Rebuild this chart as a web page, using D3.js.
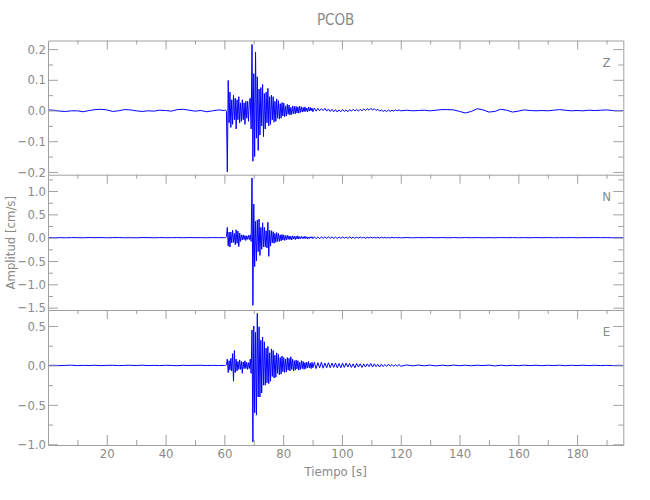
<!DOCTYPE html>
<html>
<head>
<meta charset="utf-8">
<script src="https://cdn.jsdelivr.net/npm/d3@7"></script>
<style>
  html, body { margin: 0; padding: 0; background: #ffffff; }
  svg { display: block; }
  text { font-family: "Liberation Sans Narrow", "DejaVu Sans Condensed", "Roboto", sans-serif; fill: #8a8a8a; }
</style>
</head>
<body>
<div id="chart"></div>
<script>
// ---------------- DATA ----------------
const title = "PCOB";
const components = ["Z", "N", "E"];
const xLabel = "Tiempo [s]";
const yLabel = "Amplitud [cm/s]";

// sampling grids of the hand-read trace segments (start time, step in s)
const gridPre  = [0.0, 2.0];
const gridEvt  = [60.4, 0.3];
const gridCoda = [90.6, 0.6];
const gridTail = [122.0, 2.0];

// Z component
const zPre = [0.002,0.001,-0.002,-0.003,-0.001,-0.001,-0.004,0.000,0.003,0.004,0.002,-0.003,-0.001,0.003,0.002,-0.001,-0.003,-0.001,-0.002,0.001,0.000,-0.002,0.003,0.004,0.001,-0.002,0.000,-0.004,-0.001,0.002,0.000];
const zEvt = [0.002,-0.003,-0.200,0.098,-0.040,0.060,-0.055,0.035,-0.045,0.050,
  -0.030,0.040,-0.060,0.035,-0.030,0.045,-0.040,0.025,-0.035,0.035,
  -0.030,0.025,-0.045,0.030,-0.025,0.030,-0.035,0.030,0.040,-0.060,
  0.215,-0.165,0.120,-0.150,0.190,-0.090,0.110,-0.130,0.070,-0.080,
  0.075,-0.050,0.085,-0.085,0.055,-0.060,0.060,-0.040,0.072,-0.050,
  0.045,-0.045,0.050,-0.030,0.045,-0.038,0.030,-0.035,0.038,-0.025,
  0.032,-0.028,0.022,-0.025,0.026,-0.018,0.024,-0.020,0.015,-0.018,
  0.020,-0.012,0.018,-0.015,0.010,-0.013,0.015,-0.010,0.014,-0.011,
  0.013,-0.008,0.012,-0.009,0.014,-0.006,0.012,-0.005,0.010,-0.004,
  0.012,-0.003,0.008,-0.004,0.011,-0.002,0.010,-0.001,0.008,-0.004];
const zCoda = [0.008,-0.002,0.007,-0.001,0.006,0.000,0.007,-0.002,0.005,-0.003,
  0.004,-0.004,0.003,-0.005,0.002,-0.004,0.003,-0.003,0.002,-0.004,
  0.003,-0.002,0.004,-0.001,0.003,-0.002,0.004,-0.001,0.005,0.000,
  0.006,0.001,0.007,0.002,0.006,0.000,0.004,-0.002,0.002,-0.003,
  0.001,-0.004,0.002,-0.003,0.001,-0.002,0.002,-0.001,0.002,-0.001];
const zTail = [0.001,-0.001,0.000,0.001,-0.001,0.001,0.003,0.003,0.002,-0.003,
  -0.008,-0.003,0.006,0.002,-0.005,-0.003,0.004,0.001,-0.005,-0.002,
  0.002,0.000,-0.001,0.000,-0.001,0.001,0.003,0.001,-0.001,0.000,
  -0.001,0.001,0.000,0.001,0.002,0.000,-0.001,0.000];

// N component
const nPre = [0.002,-0.002,0.001,-0.003,0.002,0.000,-0.002,0.003,-0.001,0.002,-0.002,0.001,0.003,-0.002,0.000,-0.003,0.002,0.001,-0.002,0.002,-0.001,0.000,0.002,-0.002,0.003,-0.001,0.001,-0.002,0.002,0.000,-0.001];
const nEvt = [0.000,0.020,0.220,-0.180,0.120,-0.200,0.120,-0.110,0.160,-0.100,
  0.090,-0.150,0.170,-0.120,0.140,-0.190,0.100,-0.080,0.060,-0.050,
  0.060,-0.040,0.045,-0.060,0.040,-0.035,0.050,-0.040,0.060,-0.080,
  1.280,-1.450,0.720,-0.620,0.350,-0.500,0.380,-0.300,0.400,-0.380,
  0.220,-0.250,0.320,-0.200,0.220,-0.200,0.150,-0.220,0.330,-0.400,
  0.160,-0.180,0.150,-0.110,0.130,-0.120,0.090,-0.100,0.110,-0.080,
  0.090,-0.080,0.060,-0.070,0.070,-0.050,0.060,-0.060,0.045,-0.050,
  0.050,-0.035,0.040,-0.040,0.030,-0.050,0.040,-0.025,0.030,-0.040,
  0.030,-0.025,0.040,-0.030,0.020,-0.020,0.030,-0.020,0.020,-0.020,
  0.030,-0.015,0.020,-0.030,0.015,-0.020,0.020,-0.010,0.020,-0.020];
const nCoda = [0.020,-0.020,0.015,-0.020,0.020,-0.015,0.018,-0.015,0.020,-0.012,
  0.015,-0.015,0.012,-0.018,0.015,-0.012,0.015,-0.010,0.012,-0.015,
  0.018,-0.010,0.012,-0.012,0.010,-0.010,0.015,-0.008,0.010,-0.012,
  0.008,-0.008,0.010,-0.006,0.008,-0.008,0.006,-0.008,0.010,-0.005,
  0.006,-0.006,0.005,-0.006,0.008,-0.004,0.005,-0.005,0.004,-0.004];
const nTail = [0.003,-0.003,0.002,-0.002,0.003,-0.002,0.002,-0.003,0.002,-0.002,
  0.003,-0.002,0.002,-0.002,0.001,-0.002,0.002,-0.001,0.002,-0.002,
  0.001,-0.002,0.002,-0.001,0.002,-0.002,0.001,-0.001,0.002,-0.002,
  0.001,-0.001,0.002,-0.001,0.001,-0.002,0.001,0.000];

// E component
const ePre = [-0.001,0.002,-0.002,0.001,0.003,-0.002,0.001,-0.001,0.002,-0.003,0.001,0.002,-0.002,0.000,0.002,-0.001,0.003,-0.002,0.001,-0.002,0.002,0.000,-0.003,0.002,-0.001,0.001,0.002,-0.002,0.001,-0.001,0.000];
const eEvt = [0.000,0.010,0.080,-0.090,0.060,-0.060,0.090,-0.070,0.150,-0.200,
  0.190,-0.090,0.080,-0.070,0.050,-0.050,0.070,-0.050,0.050,-0.100,
  0.045,-0.040,0.060,-0.040,0.040,-0.050,0.035,-0.040,0.080,-0.100,
  0.450,-0.970,0.500,-0.600,0.420,-0.630,0.660,-0.400,0.490,-0.400,
  0.320,-0.350,0.360,-0.250,0.300,-0.250,0.220,-0.220,0.240,-0.230,
  0.160,-0.200,0.210,-0.140,0.190,-0.160,0.130,-0.150,0.160,-0.100,
  0.140,-0.120,0.100,-0.110,0.120,-0.080,0.100,-0.090,0.080,-0.080,
  0.100,-0.060,0.090,-0.070,0.110,-0.050,0.080,-0.070,0.060,-0.060,
  0.070,-0.045,0.060,-0.060,0.040,-0.050,0.060,-0.040,0.050,-0.050,
  0.035,-0.040,0.040,-0.030,0.050,-0.030,0.030,-0.040,0.040,-0.030];
const eCoda = [0.040,-0.040,0.035,-0.030,0.040,-0.035,0.030,-0.030,0.035,-0.030,
  0.030,-0.025,0.030,-0.030,0.025,-0.030,0.030,-0.025,0.030,-0.020,
  0.025,-0.025,0.020,-0.030,0.025,-0.020,0.020,-0.025,0.020,-0.020,
  0.020,-0.015,0.025,-0.020,0.020,-0.015,0.015,-0.020,0.015,-0.015,
  0.012,-0.012,0.015,-0.010,0.012,-0.012,0.010,-0.010,0.012,-0.010];
const eTail = [0.006,-0.005,0.005,-0.004,0.004,-0.006,0.003,-0.004,0.004,-0.003,
  0.003,-0.004,0.003,-0.002,0.004,-0.006,0.003,-0.003,0.002,-0.003,
  0.003,-0.002,0.002,-0.003,0.002,-0.002,0.003,-0.003,0.002,-0.002,
  0.003,-0.002,0.002,-0.002,0.001,-0.002,0.002,-0.001];

// axis ticks
const xTicks = [20, 40, 60, 80, 100, 120, 140, 160, 180];
const xMinor = [10, 30, 50, 70, 90, 110, 130, 150, 170, 190];
const zTicks = [-0.2, -0.1, 0.0, 0.1, 0.2];
const zMinor = [-0.15, -0.05, 0.05, 0.15];
const nTicks = [-1.5, -1.0, -0.5, 0.0, 0.5, 1.0];
const nMinor = [-1.25, -0.75, -0.25, 0.25, 0.75, 1.25];
const eTicks = [-1.0, -0.5, 0.0, 0.5];
const eMinor = [-0.75, -0.25, 0.25];

const xDomain = [0, 195.7];
const zDomain = [-0.209, 0.228];
const nDomain = [-1.55, 1.35];
const eDomain = [-1.009, 0.703];

// ---------------- DRAW ----------------
const W = 650, H = 500;
const L = 48, R = 623.3;
const panelBounds = [[40.5, 174.7], [174.7, 310], [310, 445]];
const lineCol = "#a0a0a0";

const svg = d3.select("#chart").append("svg").attr("width", W).attr("height", H);
const x = d3.scaleLinear().domain(xDomain).range([L, R]);

function build(segs) {
  const grids = [gridPre, gridEvt, gridCoda, gridTail];
  const out = [];
  segs.forEach((vals, k) => {
    vals.forEach((v, i) => out.push({ t: grids[k][0] + i * grids[k][1], v: v }));
  });
  return out;
}

const panels = [
  { name: components[0], data: build([zPre, zEvt, zCoda, zTail]), domain: zDomain, ticks: zTicks, minor: zMinor },
  { name: components[1], data: build([nPre, nEvt, nCoda, nTail]), domain: nDomain, ticks: nTicks, minor: nMinor },
  { name: components[2], data: build([ePre, eEvt, eCoda, eTail]), domain: eDomain, ticks: eTicks, minor: eMinor }
];

const fmt = d => (d < 0 ? "\u2212" : "") + Math.abs(d).toFixed(1);

function styleAxis(g) {
  g.selectAll("path").attr("stroke", lineCol).attr("stroke-width", 1);
  g.selectAll("line").attr("stroke", lineCol).attr("stroke-width", 1);
  g.selectAll("text").attr("fill", "#8a8a8a").attr("font-size", 13)
    .attr("font-family", "\"Liberation Sans Narrow\", \"DejaVu Sans Condensed\", Roboto, sans-serif");
}

panels.forEach((p, idx) => {
  const [top, bot] = panelBounds[idx];
  const y = d3.scaleLinear().domain(p.domain).range([bot, top]);

  const clipId = "clip" + idx;
  svg.append("clipPath").attr("id", clipId).append("rect")
    .attr("x", L).attr("y", top).attr("width", R - L).attr("height", bot - top);

  const line = d3.line().x(d => x(d.t)).y(d => y(d.v));
  svg.append("path").datum(p.data)
    .attr("clip-path", "url(#" + clipId + ")")
    .attr("fill", "none").attr("stroke", "#0000ff").attr("stroke-width", 1)
    .attr("stroke-linejoin", "miter")
    .attr("d", line);

  // left axis (major with labels, inward ticks)
  const gl = svg.append("g").attr("transform", `translate(${L},0)`)
    .call(d3.axisLeft(y).tickValues(p.ticks).tickSize(-10).tickSizeOuter(0).tickPadding(2).tickFormat(fmt));
  styleAxis(gl);
  const glm = svg.append("g").attr("transform", `translate(${L},0)`)
    .call(d3.axisLeft(y).tickValues(p.minor).tickSize(-5).tickSizeOuter(0).tickFormat(""));
  styleAxis(glm); glm.select(".domain").remove();

  // right axis
  const gr = svg.append("g").attr("transform", `translate(${R},0)`)
    .call(d3.axisRight(y).tickValues(p.ticks).tickSize(-10).tickSizeOuter(0).tickFormat(""));
  styleAxis(gr);
  const grm = svg.append("g").attr("transform", `translate(${R},0)`)
    .call(d3.axisRight(y).tickValues(p.minor).tickSize(-5).tickSizeOuter(0).tickFormat(""));
  styleAxis(grm); grm.select(".domain").remove();

  // top axis of the panel (ticks pointing down)
  const gt = svg.append("g").attr("transform", `translate(0,${top})`)
    .call(d3.axisTop(x).tickValues(xTicks).tickSize(-9).tickSizeOuter(0).tickFormat(""));
  styleAxis(gt);
  const gtm = svg.append("g").attr("transform", `translate(0,${top})`)
    .call(d3.axisTop(x).tickValues(xMinor).tickSize(-4).tickSizeOuter(0).tickFormat(""));
  styleAxis(gtm); gtm.select(".domain").remove();

  // component label
  svg.append("text").attr("x", 606.5).attr("y", top + 26)
    .attr("text-anchor", "middle").attr("font-size", 13).text(p.name);

  if (idx === panels.length - 1) {
    const gb = svg.append("g").attr("transform", `translate(0,${bot})`)
      .call(d3.axisBottom(x).tickValues(xTicks).tickSize(-10).tickSizeOuter(0).tickPadding(4).tickFormat(d3.format("d")));
    styleAxis(gb);
    const gbm = svg.append("g").attr("transform", `translate(0,${bot})`)
      .call(d3.axisBottom(x).tickValues(xMinor).tickSize(-5).tickSizeOuter(0).tickFormat(""));
    styleAxis(gbm); gbm.select(".domain").remove();
  }
});

// titles
svg.append("text").attr("x", (L + R) / 2).attr("y", 25)
  .attr("text-anchor", "middle").attr("font-size", 15).text(title);
svg.append("text").attr("x", (L + R) / 2).attr("y", 476)
  .attr("text-anchor", "middle").attr("font-size", 13).text(xLabel);
svg.append("text")
  .attr("transform", `translate(15,${(40.5 + 445) / 2}) rotate(-90)`)
  .attr("text-anchor", "middle").attr("font-size", 13).text(yLabel);
</script>
</body>
</html>
